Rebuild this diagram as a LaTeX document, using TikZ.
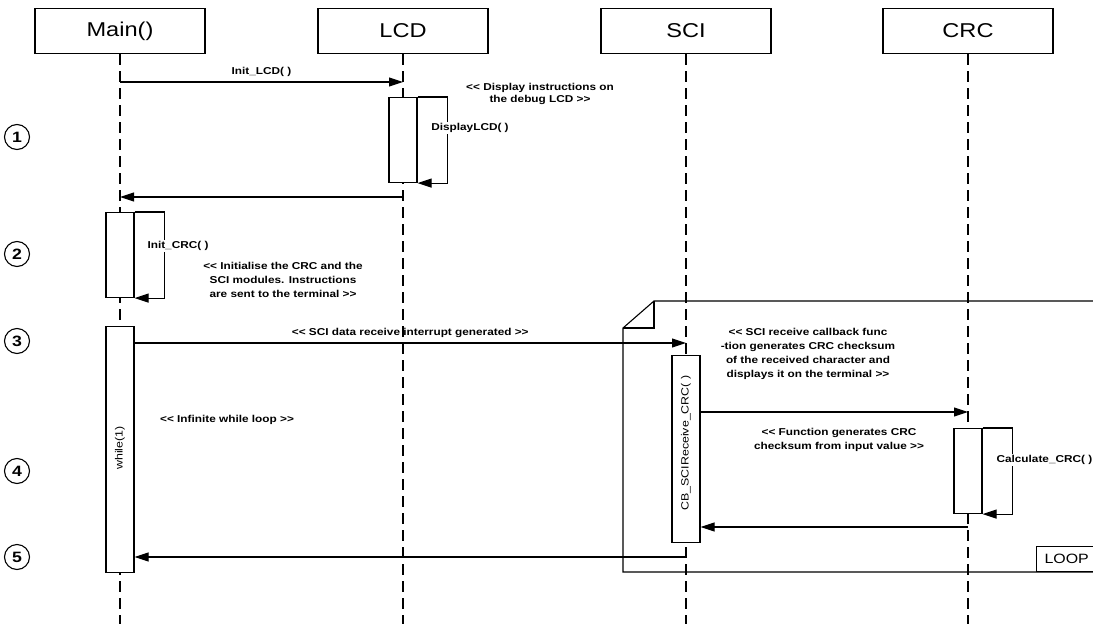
\documentclass[tikz,border=0pt]{standalone}
\usepackage{fontspec}
\setmainfont{Liberation Sans}[FakeStretch=1.18]
\usetikzlibrary{arrows.meta, positioning}
\newcommand{\opennote}{<\kern0pt<}
\newcommand{\closenote}{>\kern0pt>}

\begin{document}
\begin{tikzpicture}[x=1pt, y=-1pt, line width=1.1pt,
  actor/.style={draw, fill=white, minimum width=170pt, minimum height=45pt,
                font=\fontsize{20}{24}\selectfont},
  lifeline/.style={dash pattern=on 11pt off 6pt},
  activation/.style={draw, fill=white, minimum width=28pt, inner sep=0pt},
  msg/.style={-{Triangle[length=14pt, width=9pt]}},
  msglabel/.style={font=\fontsize{10}{12}\selectfont\bfseries, inner sep=1pt},
  note/.style={font=\fontsize{10}{14}\selectfont\bfseries, align=center, inner sep=0pt},
  vlabel/.style={rotate=90, font=\fontsize{10.5}{12}\selectfont},
  stepnum/.style={circle, draw, minimum size=25pt, inner sep=0pt,
                  font=\fontsize{15}{15}\selectfont\bfseries}
]
  \useasboundingbox (0,0) rectangle (1093,624);
  \clip (0,0) rectangle (1093,624);

  % objects
  \node[actor] (main) at (120,31) {Main()};
  \node[actor] (lcd)  at (403,31) {LCD};
  \node[actor] (sci)  at (686,31) {SCI};
  \node[actor] (crc)  at (968,31) {CRC};

  \foreach \obj in {main, lcd, sci, crc}
    \draw[lifeline] (\obj.south) -- (\obj |- 0,630);

  % loop frame
  \draw (1100,301) -- (654,301) -- (623,328) -- (623,572) -- (1100,572);
  \draw (654,301) -- (654,328) -- (623,328);
  \node[draw, fill=white, anchor=south west, minimum height=25pt, inner xsep=8pt,
        font=\fontsize{13.5}{15}\selectfont] (loop) at (1036,572) {LOOP};

  % steps
  \node[stepnum] (s1) at (17,137) {1};
  \node[stepnum] (s2) at (17,254) {2};
  \node[stepnum] (s3) at (17,341) {3};
  \node[stepnum] (s4) at (17,471) {4};
  \node[stepnum] (s5) at (17,557) {5};

  % activations
  \node[activation, anchor=north, minimum height=85pt]  (lcdact)   at (403,97)  {};
  \node[activation, anchor=north, minimum height=85pt]  (initact)  at (120,212) {};
  \node[activation, anchor=north, minimum height=246pt] (whileact) at (120,326) {};
  \node[activation, anchor=north, minimum height=187pt] (sciact)   at (686,355) {};
  \node[activation, anchor=north, minimum height=85pt]  (crcact)   at (968,428) {};

  \node[vlabel] (whiletxt) at (whileact.center |- 0,448) {while(1)};
  \node[vlabel] (scitxt)   at (sciact.center |- 0,443) {CB\_SCIReceive\_CRC( )};

  % messages
  \draw[msg] (main |- 0,82) -- (lcd |- 0,82)
    node[msglabel, midway, above=4pt] {Init\_LCD( )};
  \node[note, font=\fontsize{10}{12}\selectfont\bfseries] (lcdnote) at (540,94)
    {\opennote{} Display instructions on\\the debug LCD \closenote};

  \draw[msg] (lcdact.north east) -- ++(30,0) |- (lcdact.south east);
  \node[msglabel, fill=white] (disptxt) at (470,128) {DisplayLCD( )};

  \draw[msg] (lcd |- 0,197) -- (main |- 0,197);

  \draw[msg] (initact.north east) -- ++(30,0) |- (initact.south east);
  \node[msglabel, fill=white] (crctxt) at (178,246) {Init\_CRC( )};
  \node[note] (initnote) at (283,280)
    {\opennote{} Initialise the CRC and the\\SCI modules. Instructions\\are sent to the terminal \closenote};

  \draw[msg] (whileact.east |- 0,343) -- (sci |- 0,343)
    node[msglabel, midway, above=4pt] {\opennote{} SCI data receive interrupt generated \closenote};
  \node[note] (whilenote) at (227,420) {\opennote{} Infinite while loop \closenote};

  \node[note] (scinote) at (808,354)
    {\opennote{} SCI receive callback func\\-tion generates CRC checksum\\of the received character and\\displays it on the terminal \closenote};

  \draw[msg] (sciact.east |- 0,412) -- (crc |- 0,412);
  \node[note] (crcnote) at (839,440)
    {\opennote{} Function generates CRC\\checksum from input value \closenote};

  \draw[msg] (crcact.north east) -- ++(30,0) |- (crcact.south east);
  \node[msglabel, fill=white, anchor=west] (calctxt) at (995,460) {Calculate\_CRC( )};

  \draw[msg] (crc |- 0,527) -- (sciact.east |- 0,527);
  \draw[msg] (sci |- 0,557) -- (whileact.east |- 0,557);
\end{tikzpicture}
\end{document}
